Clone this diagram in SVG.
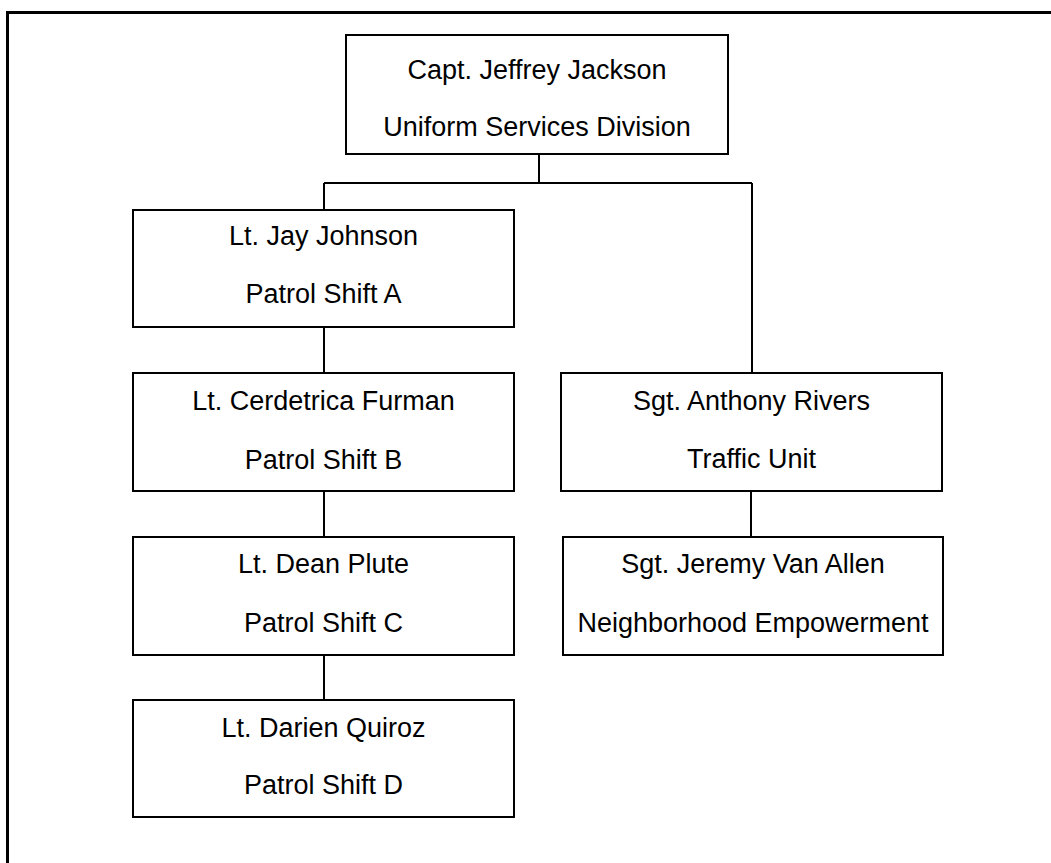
<svg xmlns="http://www.w3.org/2000/svg" width="1051" height="863" viewBox="0 0 1051 863">
<style>
.box{fill:#fff;stroke:#000;stroke-width:2}
.t{font-family:"Liberation Sans",Arial,sans-serif;font-size:27px;fill:#000;text-anchor:middle}
.c{stroke:#000;stroke-width:2;fill:none}
</style>
<rect width="1051" height="863" fill="#fff"/>
<path d="M1060 12.5 H7.5 V870" fill="none" stroke="#000" stroke-width="3"/>
<g id="connectors">
<path class="c" d="M539 154 V183 M324 183 H752 M324 183 V210 M752 183 V373"/>
<path class="c" d="M324 327 V373 M324 491 V537 M324 655 V700 M751 491 V537"/>
</g>
<g id="n-capt"><rect class="box" x="346" y="35" width="382" height="119"/>
<text class="t" x="537" y="79">Capt. Jeffrey Jackson</text>
<text class="t" x="537" y="136">Uniform Services Division</text></g>
<g id="n-johnson"><rect class="box" x="133" y="210" width="381" height="117"/>
<text class="t" x="323.5" y="245">Lt. Jay Johnson</text>
<text class="t" x="323.5" y="303">Patrol Shift A</text></g>
<g id="n-furman"><rect class="box" x="133" y="373" width="381" height="118"/>
<text class="t" x="323.5" y="410">Lt. Cerdetrica Furman</text>
<text class="t" x="323.5" y="469">Patrol Shift B</text></g>
<g id="n-plute"><rect class="box" x="133" y="537" width="381" height="118"/>
<text class="t" x="323.5" y="573">Lt. Dean Plute</text>
<text class="t" x="323.5" y="632">Patrol Shift C</text></g>
<g id="n-quiroz"><rect class="box" x="133" y="700" width="381" height="117"/>
<text class="t" x="323.5" y="737">Lt. Darien Quiroz</text>
<text class="t" x="323.5" y="794">Patrol Shift D</text></g>
<g id="n-rivers"><rect class="box" x="561" y="373" width="381" height="118"/>
<text class="t" x="751.5" y="410">Sgt. Anthony Rivers</text>
<text class="t" x="751.5" y="468">Traffic Unit</text></g>
<g id="n-vanallen"><rect class="box" x="563" y="537" width="380" height="118"/>
<text class="t" x="753" y="573">Sgt. Jeremy Van Allen</text>
<text class="t" x="753" y="632">Neighborhood Empowerment</text></g>
</svg>
